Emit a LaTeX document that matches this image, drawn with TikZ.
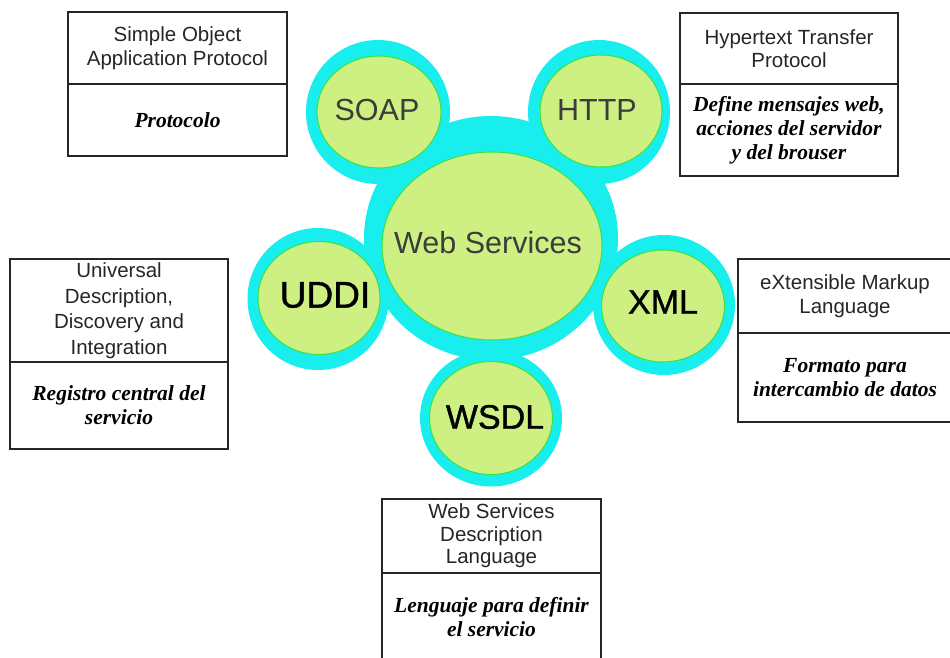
\documentclass[tikz,border=0pt]{standalone}
\usepackage{fontspec}
\setmainfont{Liberation Sans}
\newfontfamily\heavyfont[FakeBold=1.2]{Liberation Sans}
\newfontfamily\notefont{Liberation Serif}
\usetikzlibrary{shapes.geometric}

\definecolor{halo}{RGB}{25,238,238}
\definecolor{bubble}{RGB}{206,240,130}
\definecolor{rim}{RGB}{60,225,60}
\definecolor{ink}{RGB}{60,60,60}

\tikzset{
  halobox/.style={ellipse, fill=halo, draw=none, inner sep=0pt},
  bubblenode/.style={ellipse, fill=bubble, draw=rim, line width=1pt, inner sep=0pt},
  hubtext/.style={font=\fontsize{30.5}{34}\selectfont, text=ink},
  sattext/.style={font=\heavyfont\fontsize{34}{38}\selectfont, text=black},
  headbox/.style={draw=black!85, line width=1.5pt, inner sep=0pt, align=center,
    font=\fontsize{20.5}{23.5}\selectfont, text=black!85},
  notebox/.style={draw=black!85, line width=1.5pt, inner sep=0pt, align=center,
    font=\notefont\bfseries\itshape\fontsize{21.5}{24}\selectfont, text=black},
}

\begin{document}
\begin{tikzpicture}[x=1pt, y=-1pt]
\useasboundingbox (0,0) rectangle (950,657);
\fill[white] (0,0) rectangle (950,657);

% cyan halos behind the bubbles
\node[halobox, minimum width=254pt, minimum height=244pt] (hws) at (491,238) {};
\node[halobox, minimum width=144pt, minimum height=144pt] (hsoap) at (378,112) {};
\node[halobox, minimum width=142pt, minimum height=144pt] (hhttp) at (599,112) {};
\node[halobox, minimum width=141pt, minimum height=142pt] (huddi) at (318,299) {};
\node[halobox, minimum width=142pt, minimum height=140pt] (hxml) at (664,305) {};
\node[halobox, minimum width=142pt, minimum height=137pt] (hwsdl) at (491,418) {};

% green bubbles
\node[bubblenode, minimum width=220pt, minimum height=188pt] (ws) at (492,246) {};
\node[bubblenode, minimum width=124pt, minimum height=112pt] (soap) at (379,112) {};
\node[bubblenode, minimum width=122pt, minimum height=112pt] (http) at (601,111) {};
\node[bubblenode, minimum width=122pt, minimum height=113pt] (uddi) at (319,298) {};
\node[bubblenode, minimum width=123pt, minimum height=112pt] (xml) at (663,306) {};
\node[bubblenode, minimum width=123pt, minimum height=113pt] (wsdl) at (491,418) {};

% bubble labels
\node[hubtext] (wsl) at (488,243) {Web Services};
\node[hubtext] (soapl) at (377,110) {SOAP};
\node[hubtext] (httpl) at (597,110) {HTTP};
\node[sattext, font=\heavyfont\fontsize{37}{40}\selectfont] (uddil) at (325,295) {UDDI};
\node[sattext] (xmll) at (663,302) {XML};
\node[sattext] (wsdll) at (495,417) {WSDL};

% SOAP description
\node[headbox, minimum width=219pt, minimum height=72pt] (soaphead) at (177.5,48)
  {Simple Object\\Application Protocol};
\node[notebox, minimum width=219pt, minimum height=72pt] (soapnote) at (177.5,120)
  {Protocolo};

% HTTP description
\node[headbox, minimum width=218pt, minimum height=71pt] (httphead) at (789,48.5)
  {Hypertext Transfer\\Protocol};
\node[notebox, minimum width=218pt, minimum height=92pt] (httpnote) at (789,130)
  {Define mensajes web,\\acciones del servidor\\y del brouser};

% UDDI description
\node[headbox, minimum width=218pt, minimum height=103pt,
  font=\fontsize{20.5}{25.5}\selectfont] (uddihead) at (119,310.5)
  {Universal\\Description,\\Discovery and\\Integration};
\node[notebox, minimum width=218pt, minimum height=87pt] (uddinote) at (119,405.5)
  {Registro central del\\servicio};

% XML description
\node[headbox, minimum width=214pt, minimum height=74pt] (xmlhead) at (845,296)
  {eXtensible Markup\\Language};
\node[notebox, minimum width=214pt, minimum height=89pt] (xmlnote) at (845,377.5)
  {Formato para\\intercambio de datos};

% WSDL description
\node[headbox, minimum width=219pt, minimum height=74pt,
  font=\fontsize{20.5}{22.5}\selectfont] (wsdlhead) at (491.5,536)
  {Web Services\\Description\\Language};
\node[notebox, minimum width=219pt, minimum height=89pt] (wsdlnote) at (491.5,617.5)
  {Lenguaje para definir\\el servicio};
\end{tikzpicture}
\end{document}
